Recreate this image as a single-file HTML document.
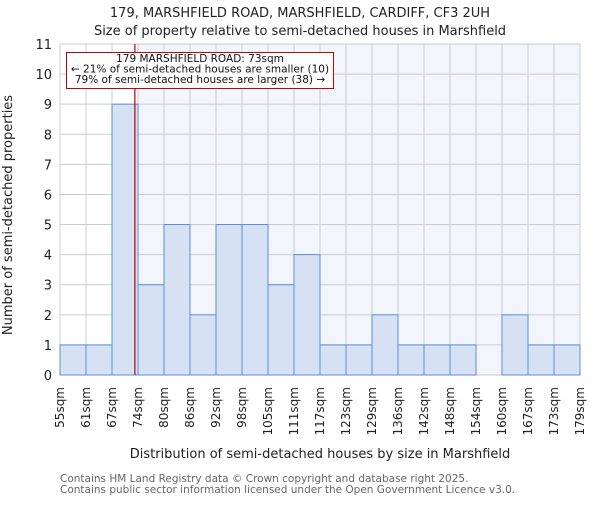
<!DOCTYPE html>
<html><head><meta charset="utf-8"><style>
body{margin:0;background:#fff}
svg text{font-family:"DejaVu Sans","Liberation Sans",sans-serif}
</style></head><body>
<svg id="c" width="600" height="500" xmlns="http://www.w3.org/2000/svg">
<text x="300" y="17" text-anchor="middle" font-size="13" fill="#222">179, MARSHFIELD ROAD, MARSHFIELD, CARDIFF, CF3 2UH</text>
<text x="300" y="35" text-anchor="middle" font-size="13" fill="#222">Size of property relative to semi-detached houses in Marshfield</text>
<g id="plot"></g>
<text transform="translate(12,215) rotate(-90)" text-anchor="middle" font-size="13" fill="#222">Number of semi-detached properties</text>
<text x="320" y="458" text-anchor="middle" font-size="13" fill="#222">Distribution of semi-detached houses by size in Marshfield</text>
<text x="60" y="482" font-size="10.5" fill="#666">Contains HM Land Registry data © Crown copyright and database right 2025.</text>
<text x="60" y="493" font-size="10.5" fill="#666">Contains public sector information licensed under the Open Government Licence v3.0.</text>
</svg>
<script>
const binLabels=["55sqm","61sqm","67sqm","74sqm","80sqm","86sqm","92sqm","98sqm","105sqm","111sqm","117sqm","123sqm","129sqm","136sqm","142sqm","148sqm","154sqm","160sqm","167sqm","173sqm","179sqm"];
const counts=[1,1,9,3,5,2,5,5,3,4,1,1,2,1,1,1,0,2,1,1];
const yTicks=[0,1,2,3,4,5,6,7,8,9,10,11];
const propertyBinPos=2.88;
const highlightBins=3;
const NS="http://www.w3.org/2000/svg";
const X0=60,X1=580,Y0=375,Y1=44,YMAX=11;
const n=counts.length;
const xs=i=>X0+(X1-X0)*i/n;
const ys=v=>Y0-(Y0-Y1)*v/YMAX;
const g=document.getElementById('plot');
function mk(t,a){const e=document.createElementNS(NS,t);for(const k in a)e.setAttribute(k,a[k]);g.appendChild(e);return e;}
let e;
e=mk('rect',{x:xs(highlightBins),y:Y1,width:X1-xs(highlightBins),height:Y0-Y1,fill:'#f2f5fc'});


yTicks.forEach(t=>{
 e=mk('line',{x1:X0,x2:X1,y1:ys(t),y2:ys(t),stroke:'#ccc','stroke-width':1});
 
 
 e=mk('text',{x:X0-8,y:ys(t)+5,'text-anchor':'end','font-size':13,fill:'#222'});e.textContent=t;
 
 
});
binLabels.forEach((l,i)=>{
 e=mk('line',{x1:xs(i),x2:xs(i),y1:Y1,y2:Y0,stroke:'#ccc','stroke-width':1});
 
 
 e=mk('text',{transform:`translate(${xs(i)+4},${Y0+12}) rotate(-90)`,'text-anchor':'end','font-size':12,fill:'#222'});e.textContent=l;
 
 
});
counts.forEach((c,i)=>{
 if(c<=0)return;
 e=mk('rect',{x:xs(i),y:ys(c),width:xs(i+1)-xs(i),height:Y0-ys(c),fill:'#d6e2f4',stroke:'#5b8fd6','stroke-width':1});
 
 
});
const px=xs(propertyBinPos);
e=mk('line',{x1:px,x2:px,y1:Y1,y2:Y0,stroke:'#b00','stroke-width':1.2});


e=mk('rect',{x:66.5,y:52.5,width:267,height:36,fill:'#fff',stroke:'#c00','stroke-width':1});


["179 MARSHFIELD ROAD: 73sqm","← 21% of semi-detached houses are smaller (10)","79% of semi-detached houses are larger (38) →"].forEach((s,i)=>{
 e=mk('text',{x:200,y:62+i*10.5,'text-anchor':'middle','font-size':10.5,fill:'#111'});e.textContent=s;
 
 
});
</script>
</body></html>
